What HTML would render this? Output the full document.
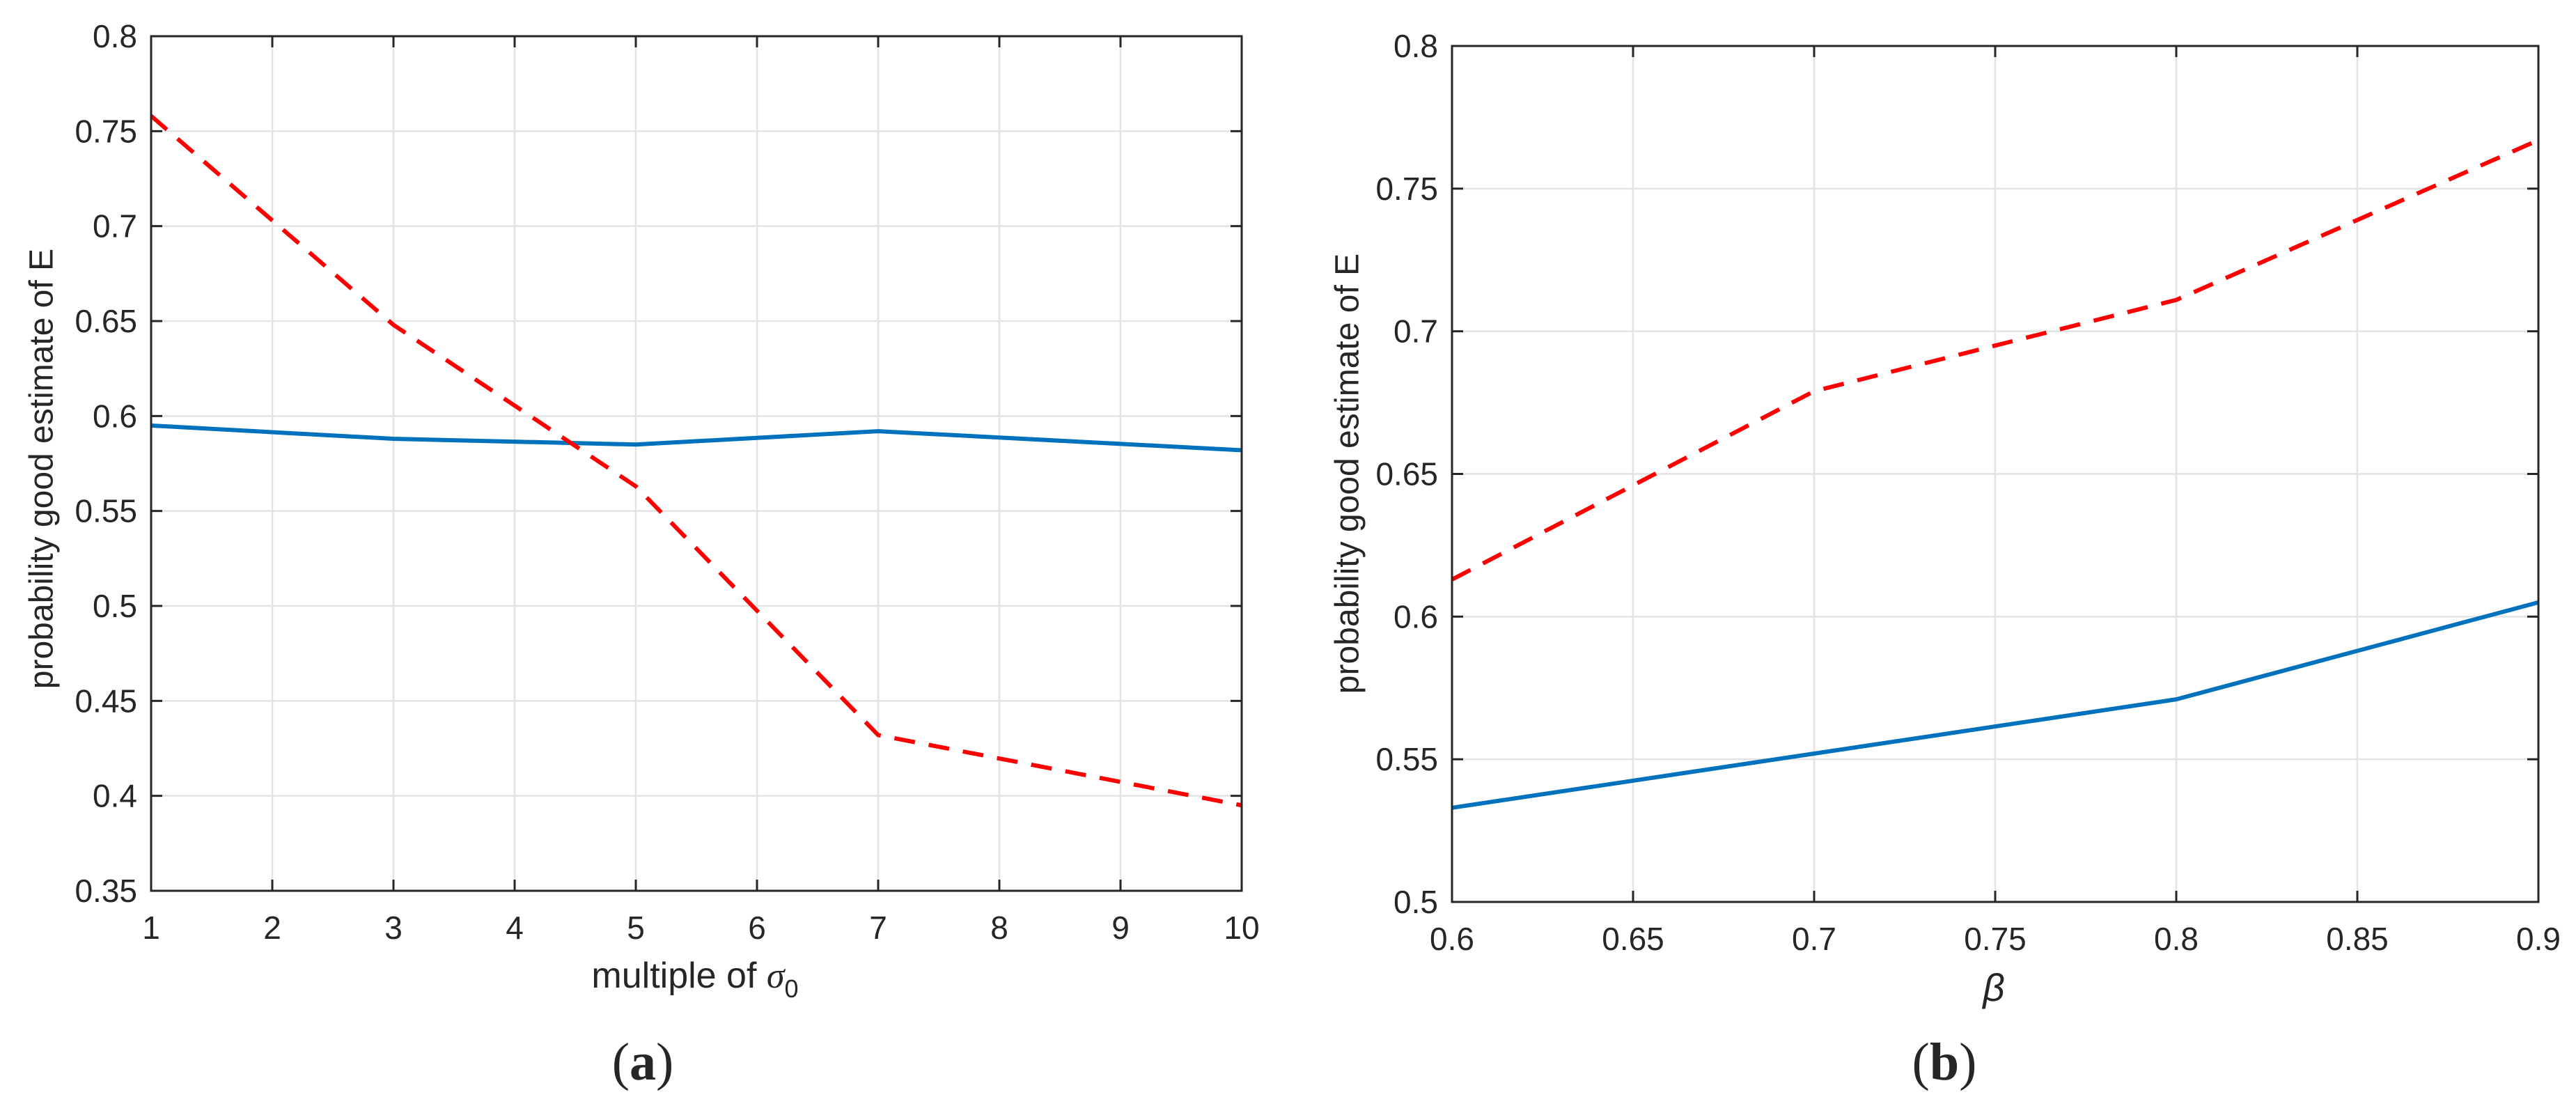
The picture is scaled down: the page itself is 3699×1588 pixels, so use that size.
<!DOCTYPE html>
<html><head><meta charset="utf-8"><style>
html,body{margin:0;padding:0;background:#fff;}
svg{display:block;}
text{font-family:"Liberation Sans",sans-serif;fill:#262626;}
</style></head><body>
<svg id="fig" width="3699" height="1588" viewBox="0 0 3699 1588" xmlns="http://www.w3.org/2000/svg"></svg>
<script>
// Panel (a) data
const xA = [1, 3, 5, 7, 10];
const redA = [0.758, 0.648, 0.563, 0.432, 0.395];
const blueA = [0.595, 0.588, 0.585, 0.592, 0.582];
const xTicksA = [1,2,3,4,5,6,7,8,9,10];
const yTicksA = [0.35,0.4,0.45,0.5,0.55,0.6,0.65,0.7,0.75,0.8];
const yTickLabelsA = ["0.35","0.4","0.45","0.5","0.55","0.6","0.65","0.7","0.75","0.8"];
// Panel (b) data
const xB = [0.6, 0.7, 0.8, 0.9];
const redB = [0.613, 0.679, 0.711, 0.767];
const blueB = [0.533, 0.552, 0.571, 0.605];
const xTicksB = [0.6,0.65,0.7,0.75,0.8,0.85,0.9];
const xTickLabelsB = ["0.6","0.65","0.7","0.75","0.8","0.85","0.9"];
const yTicksB = [0.5,0.55,0.6,0.65,0.7,0.75,0.8];
const yTickLabelsB = ["0.5","0.55","0.6","0.65","0.7","0.75","0.8"];

const NS = "http://www.w3.org/2000/svg";
const svg = document.getElementById('fig');
function mk(tag, attrs, parent){
  const e = document.createElementNS(NS, tag);
  for (const k in attrs) e.setAttribute(k, attrs[k]);
  (parent||svg).appendChild(e);
  return e;
}

function panel(cfg){
  const g = mk('g', {});
  
  
  const sx = v => cfg.L + (v - cfg.xmin) / (cfg.xmax - cfg.xmin) * (cfg.R - cfg.L);
  const sy = v => cfg.B - (v - cfg.ymin) / (cfg.ymax - cfg.ymin) * (cfg.B - cfg.T);
  cfg.xTicks.forEach(v => {
    const l = mk('line', {x1:sx(v), x2:sx(v), y1:cfg.T, y2:cfg.B, stroke:'#e3e3e3', 'stroke-width':2.5}, g);
    
    
  });
  cfg.yTicks.forEach(v => {
    const l = mk('line', {x1:cfg.L, x2:cfg.R, y1:sy(v), y2:sy(v), stroke:'#e3e3e3', 'stroke-width':2.5}, g);
    
    
  });
  const ptsRed = cfg.x.map((v,i) => sx(v)+','+sy(cfg.red[i])).join(' ');
  const ptsBlue = cfg.x.map((v,i) => sx(v)+','+sy(cfg.blue[i])).join(' ');
  const pb = mk('polyline', {points:ptsBlue, fill:'none', stroke:'#0072BD', 'stroke-width':6, 'stroke-linejoin':'round'}, g);
  
  
  const pr = mk('polyline', {points:ptsRed, fill:'none', stroke:'#ff0000', 'stroke-width':6, 'stroke-dasharray':'30 20'}, g);
  
  
  const box = mk('rect', {x:cfg.L, y:cfg.T, width:cfg.R-cfg.L, height:cfg.B-cfg.T, fill:'none', stroke:'#262626', 'stroke-width':3}, g);
  
  
  const tl = 16;
  cfg.xTicks.forEach((v,i) => {
    const x = sx(v);
    mk('line', {x1:x, x2:x, y1:cfg.B, y2:cfg.B-tl, stroke:'#262626', 'stroke-width':3}, g);
    mk('line', {x1:x, x2:x, y1:cfg.T, y2:cfg.T+tl, stroke:'#262626', 'stroke-width':3}, g);
    const t = mk('text', {x:x, y:cfg.xLabelY, 'font-size':46, 'text-anchor':'middle', 'dominant-baseline':'central'}, g);
    t.textContent = cfg.xTickLabels[i];
    
    
  });
  cfg.yTicks.forEach((v,i) => {
    const y = sy(v);
    mk('line', {x1:cfg.L, x2:cfg.L+tl, y1:y, y2:y, stroke:'#262626', 'stroke-width':3}, g);
    mk('line', {x1:cfg.R, x2:cfg.R-tl, y1:y, y2:y, stroke:'#262626', 'stroke-width':3}, g);
    const t = mk('text', {x:cfg.yLabelX, y:y, 'font-size':46, 'text-anchor':'end', 'dominant-baseline':'central'}, g);
    t.textContent = cfg.yTickLabels[i];
    
    
  });
  const cy = cfg.yTitleY;
  const yl = mk('text', {x:cfg.yTitleX, y:cy, 'font-size':48, 'text-anchor':'middle', 'dominant-baseline':'central', transform:'rotate(-90 '+cfg.yTitleX+' '+cy+')'}, g);
  yl.textContent = 'probability good estimate of E';
  
  
  return {g, sx, sy};
}

const a = panel({name:'panel-a', L:217, R:1783, T:52, B:1279, xmin:1, xmax:10, ymin:0.35, ymax:0.8,
  xTicks:xTicksA, xTickLabels:xTicksA.map(String), yTicks:yTicksA, yTickLabels:yTickLabelsA,
  x:xA, red:redA, blue:blueA, xLabelY:1332, yLabelX:197, yTitleX:60, yTitleY:673});
const b = panel({name:'panel-b', L:2085, R:3645, T:66, B:1295, xmin:0.6, xmax:0.9, ymin:0.5, ymax:0.8,
  xTicks:xTicksB, xTickLabels:xTickLabelsB, yTicks:yTicksB, yTickLabels:yTickLabelsB,
  x:xB, red:redB, blue:blueB, xLabelY:1348, yLabelX:2065, yTitleX:1935, yTitleY:680});

const xtA = mk('text', {x:998, y:1418, 'font-size':52, 'text-anchor':'middle'});
xtA.innerHTML = 'multiple of <tspan font-family="Liberation Serif, serif" font-style="italic">σ</tspan><tspan font-size="36" dy="14">0</tspan>';


const xtB = mk('text', {x:2863, y:1418, 'font-size':55, 'text-anchor':'middle', 'dominant-baseline':'central', 'font-family':'Liberation Serif, serif', 'font-style':'italic', fill:'#333'});
xtB.textContent = 'β';



const capA = mk('text', {x:923, y:1525, 'font-size':76, 'text-anchor':'middle', 'dominant-baseline':'central', fill:'#000'});
capA.innerHTML = '<tspan font-family="Liberation Serif, serif">(</tspan><tspan font-family="Liberation Serif, serif" font-weight="bold">a</tspan><tspan font-family="Liberation Serif, serif">)</tspan>';


const capB = mk('text', {x:2792, y:1525, 'font-size':76, 'text-anchor':'middle', 'dominant-baseline':'central', fill:'#000'});
capB.innerHTML = '<tspan font-family="Liberation Serif, serif">(</tspan><tspan font-family="Liberation Serif, serif" font-weight="bold">b</tspan><tspan font-family="Liberation Serif, serif">)</tspan>';


</script>
</body></html>
